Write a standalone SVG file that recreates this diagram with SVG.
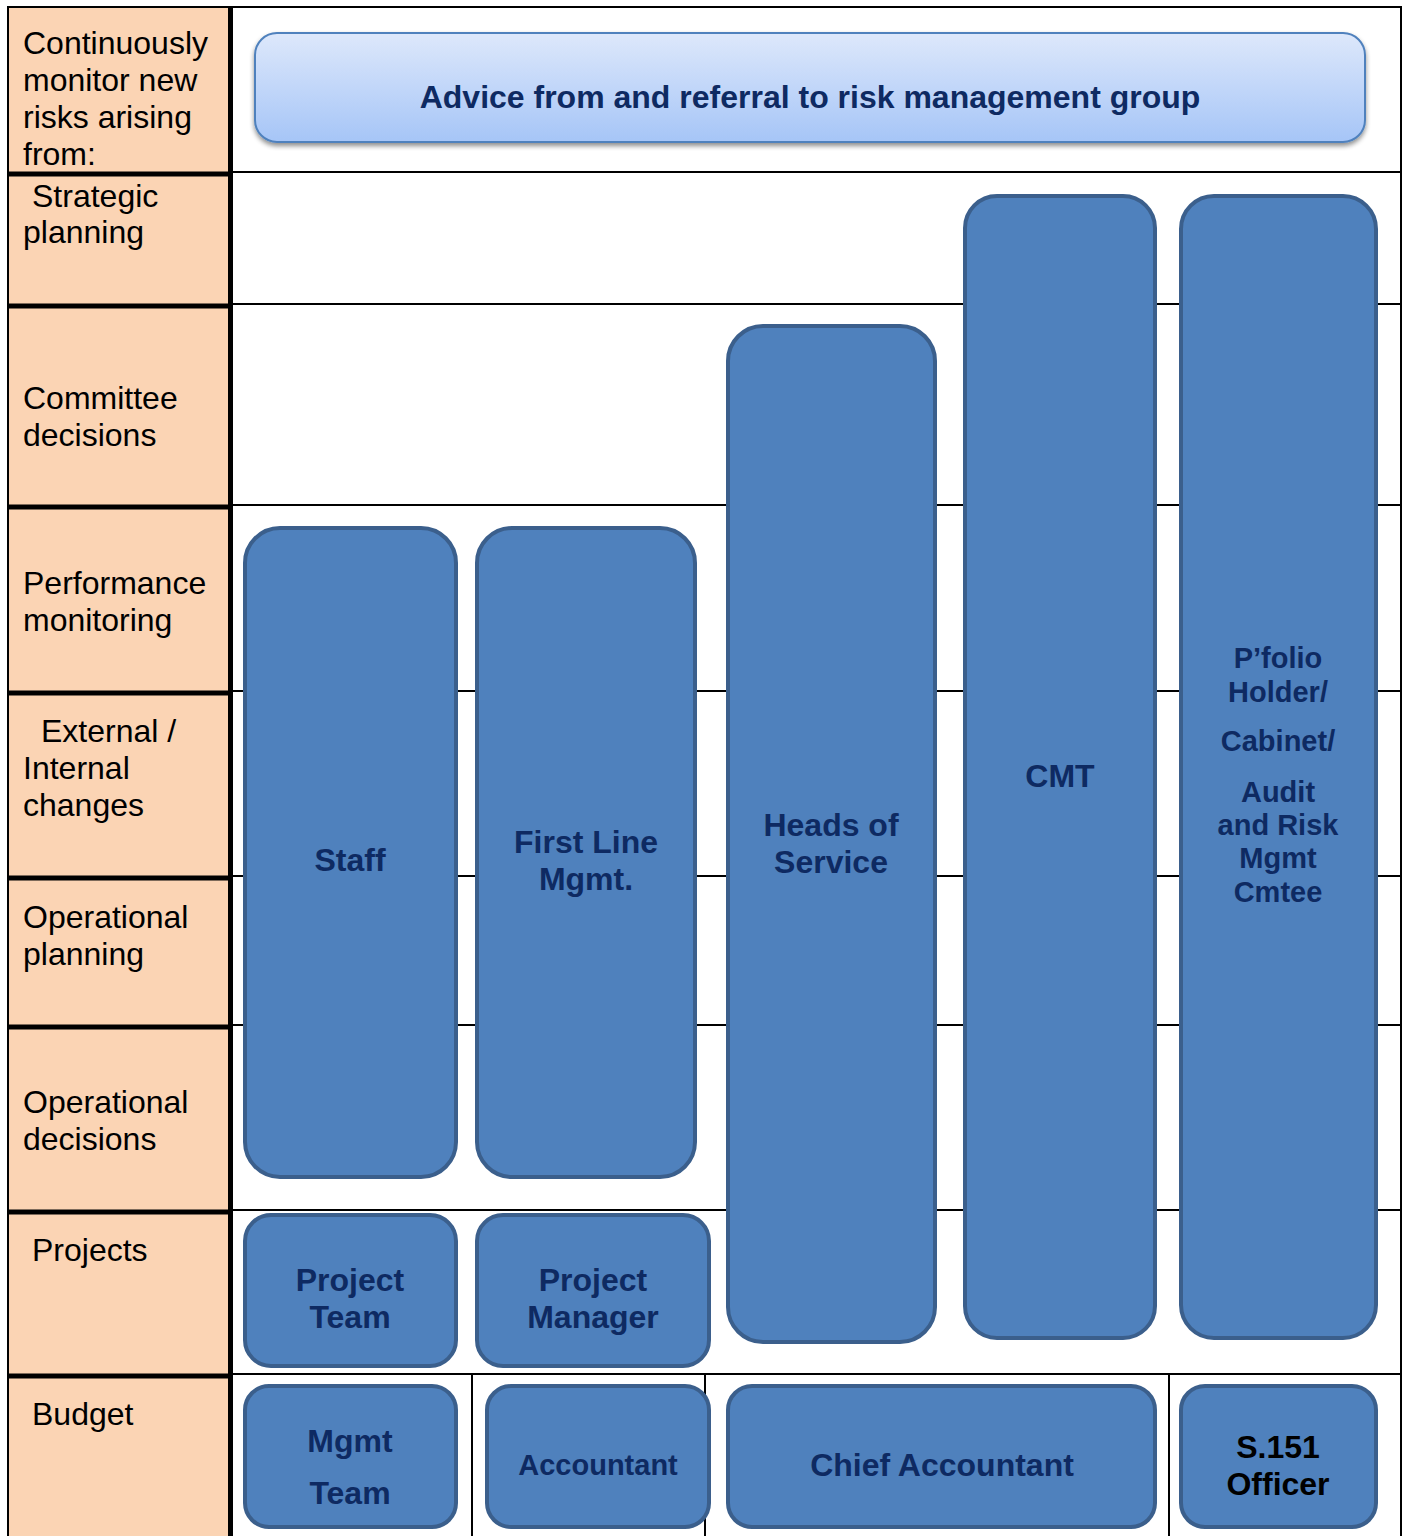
<svg xmlns="http://www.w3.org/2000/svg" width="1407" height="1536" viewBox="0 0 1407 1536">
<defs>
<linearGradient id="bannerGrad" x1="0" y1="0" x2="0" y2="1">
<stop offset="0" stop-color="#DDE8FB"/>
<stop offset="1" stop-color="#A6C5F7"/>
</linearGradient>
<filter id="shadow" x="-5%" y="-20%" width="110%" height="150%">
<feGaussianBlur in="SourceAlpha" stdDeviation="2.5"/>
<feOffset dx="0" dy="3" result="b"/>
<feComponentTransfer><feFuncA type="linear" slope="0.45"/></feComponentTransfer>
<feMerge><feMergeNode/><feMergeNode in="SourceGraphic"/></feMerge>
</filter>
</defs>
<style>
.lbl{font-family:"Liberation Sans",Arial,sans-serif;font-size:32px;fill:#000}
.box{fill:#4F81BD;stroke:#3B5F8C;stroke-width:4}
.bt{font-family:"Liberation Sans",Arial,sans-serif;font-size:32px;font-weight:bold;fill:#0E2A62;text-anchor:middle}
.sm{font-size:29px}
.thin{stroke:#000;stroke-width:2;fill:none}
.thick{stroke:#000;stroke-width:5;fill:none}
</style>
<rect x="0" y="0" width="1407" height="1536" fill="#FFFFFF"/>

<!-- left column -->
<g id="left-column">
<rect x="8" y="7" width="222" height="1529" fill="#FBD4B4"/>
<g class="lbl">
<text x="23" y="54">Continuously</text>
<text x="23" y="91">monitor new</text>
<text x="23" y="128">risks arising</text>
<text x="23" y="165">from:</text>
<text x="32" y="207">Strategic</text>
<text x="23" y="243">planning</text>
<text x="23" y="409">Committee</text>
<text x="23" y="446">decisions</text>
<text x="23" y="594">Performance</text>
<text x="23" y="631">monitoring</text>
<text x="41" y="742">External /</text>
<text x="23" y="779">Internal</text>
<text x="23" y="816">changes</text>
<text x="23" y="928">Operational</text>
<text x="23" y="965">planning</text>
<text x="23" y="1113">Operational</text>
<text x="23" y="1150">decisions</text>
<text x="32" y="1261">Projects</text>
<text x="32" y="1425">Budget</text>
</g>
</g>

<!-- grid lines -->
<g id="grid">
<path class="thin" d="M233 172H1401M233 304H1401M233 505H1401M233 691H1401M233 876H1401M233 1025H1401M233 1210H1401M233 1374H1401"/>
<path class="thick" d="M8 174H230M8 306H230M8 507H230M8 693H230M8 878H230M8 1027H230M8 1212H230M8 1376H230"/>
<path class="thin" d="M7 7H1401V1536M8 7V1536"/>
<path class="thick" d="M230.5 7V1536"/>
<path class="thin" d="M472 1374V1536M705 1374V1536M1169 1374V1536"/>
</g>

<g id="banner">
<rect x="255" y="33" width="1110" height="109" rx="22" ry="22" fill="url(#bannerGrad)" stroke="#4F81BD" stroke-width="2" filter="url(#shadow)"/>
<text x="810" y="108" class="bt">Advice from and referral to risk management group</text>
</g>

<g id="staff">
<rect class="box" x="245" y="528" width="211" height="649" rx="35"/>
<text class="bt" x="350" y="871">Staff</text>
</g>
<g id="first-line-mgmt">
<rect class="box" x="477" y="528" width="218" height="649" rx="35"/>
<text class="bt" x="586" y="853">First Line</text>
<text class="bt" x="586" y="890">Mgmt.</text>
</g>
<g id="heads-of-service">
<rect class="box" x="728" y="326" width="207" height="1016" rx="35"/>
<text class="bt" x="831" y="836">Heads of</text>
<text class="bt" x="831" y="873">Service</text>
</g>
<g id="cmt">
<rect class="box" x="965" y="196" width="190" height="1142" rx="32"/>
<text class="bt" x="1060" y="787">CMT</text>
</g>
<g id="pfolio">
<rect class="box" x="1181" y="196" width="195" height="1142" rx="33"/>
<text class="bt sm" x="1278" y="668">P’folio</text>
<text class="bt sm" x="1278" y="702">Holder/</text>
<text class="bt sm" x="1278" y="751">Cabinet/</text>
<text class="bt sm" x="1278" y="802">Audit</text>
<text class="bt sm" x="1278" y="835">and Risk</text>
<text class="bt sm" x="1278" y="868">Mgmt</text>
<text class="bt sm" x="1278" y="902">Cmtee</text>
</g>
<g id="project-team">
<rect class="box" x="245" y="1215" width="211" height="151" rx="26"/>
<text class="bt" x="350" y="1291">Project</text>
<text class="bt" x="350" y="1328">Team</text>
</g>
<g id="project-manager">
<rect class="box" x="477" y="1215" width="232" height="151" rx="26"/>
<text class="bt" x="593" y="1291">Project</text>
<text class="bt" x="593" y="1328">Manager</text>
</g>
<g id="mgmt-team">
<rect class="box" x="245" y="1386" width="211" height="141" rx="24"/>
<text class="bt" x="350" y="1452">Mgmt</text>
<text class="bt" x="350" y="1504">Team</text>
</g>
<g id="accountant">
<rect class="box" x="487" y="1386" width="222" height="141" rx="24"/>
<text class="bt sm" x="598" y="1475">Accountant</text>
</g>
<g id="chief-accountant">
<rect class="box" x="728" y="1386" width="427" height="141" rx="24"/>
<text class="bt" x="942" y="1476">Chief Accountant</text>
</g>
<g id="s151-officer">
<rect class="box" x="1181" y="1386" width="195" height="141" rx="24"/>
<text class="bt" x="1278" y="1458" style="fill:#000">S.151</text>
<text class="bt" x="1278" y="1495" style="fill:#000">Officer</text>
</g>
</svg>
